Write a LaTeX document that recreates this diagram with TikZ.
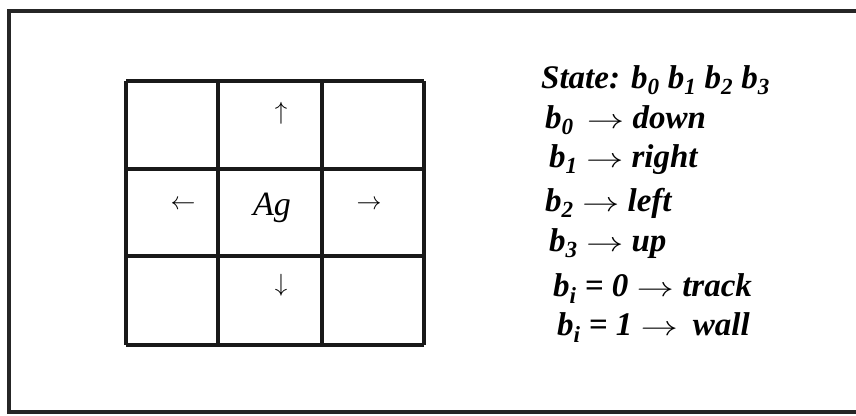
\documentclass[tikz,border=0pt]{standalone}
\usepackage{fontspec}
\usepackage{graphicx}
\setmainfont{Liberation Serif}
\newcommand{\arr}{\hspace{0.25em}\scalebox{1.5}[1.1]{$\rightarrow$}\hspace{0.25em}}
\newcommand{\bsub}[1]{b\textsubscript{#1}}
\begin{document}
\begin{tikzpicture}[x=1pt,y=-1pt,
  frameline/.style={line width=3.2pt,black!85},
  gridline/.style={line width=3.4pt,black!90},
  lbl/.style={anchor=base west,inner sep=0pt,font=\fontsize{33}{36}\selectfont\bfseries\itshape},
  cellsym/.style={inner sep=0pt,font=\fontsize{36}{40}\selectfont}]
\useasboundingbox (0,0) rectangle (856,415);
\fill[white] (0,0) rectangle (856,415);
% outer frame (right side runs off the picture)
\draw[frameline] (860,11) -- (9,11) -- (9,412) -- (860,412);
% grid
\foreach \x in {126,218,322,424} \draw[gridline] (\x,81) -- (\x,345);
\foreach \y in {81,169,256,345} \draw[gridline] (126,\y) -- (424,\y);
% cell contents
\node[cellsym] (up) at (281,113) {$\uparrow$};
\node[cellsym] (lt) at (183,205) {$\leftarrow$};
\node[cellsym] (rt) at (369,205) {$\rightarrow$};
\node[cellsym] (dn) at (281,285) {$\downarrow$};
\node[cellsym,font=\fontsize{34}{38}\selectfont\itshape] (ag) at (272,208) {Ag};
% legend
\node[lbl] (st) at (541,88) {State: \bsub{0} \bsub{1} \bsub{2} \bsub{3}};
\node[lbl] (l0) at (545,128) {\bsub{0}\hspace{0.15em}\arr{}down};
\node[lbl] (l1) at (549,167) {\bsub{1}\arr{}right};
\node[lbl] (l2) at (545,211) {\bsub{2}\arr{}left};
\node[lbl] (l3) at (549,251) {\bsub{3}\arr{}up};
\node[lbl] (l4) at (553,296) {\bsub{i} = 0\arr{}track};
\node[lbl] (l5) at (557,335) {\bsub{i} = 1\arr{}\hspace{0.2em}wall};
\end{tikzpicture}
\end{document}
